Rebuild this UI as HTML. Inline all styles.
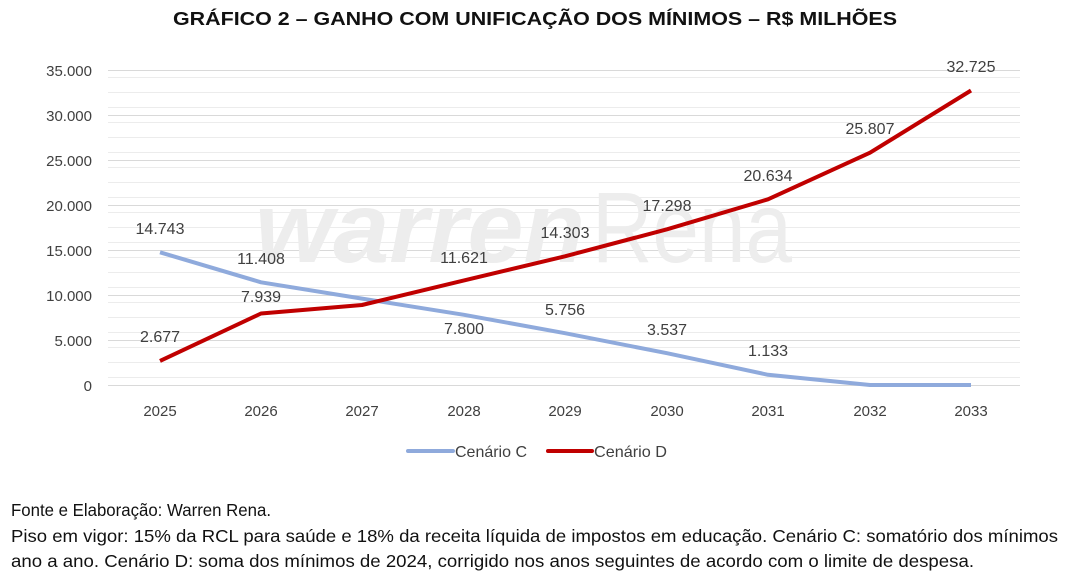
<!DOCTYPE html>
<html><head><meta charset="utf-8"><style>
body{margin:0;background:#fff;width:1069px;height:575px;overflow:hidden;font-family:"Liberation Sans",sans-serif;}
</style></head><body>
<svg width="1069" height="575" xmlns="http://www.w3.org/2000/svg" font-family="Liberation Sans, sans-serif">
<text x="173" y="25" font-size="18" font-weight="bold" fill="#111" textLength="724" lengthAdjust="spacingAndGlyphs">GRÁFICO 2  – GANHO COM UNIFICAÇÃO DOS MÍNIMOS – R$ MILHÕES</text>
<g stroke="#ececec" stroke-width="1">
<line x1="108" x2="1020" y1="77.5" y2="77.5"/><line x1="108" x2="1020" y1="92.5" y2="92.5"/>
<line x1="108" x2="1020" y1="107.5" y2="107.5"/><line x1="108" x2="1020" y1="122.5" y2="122.5"/>
<line x1="108" x2="1020" y1="137.5" y2="137.5"/><line x1="108" x2="1020" y1="152.5" y2="152.5"/>
<line x1="108" x2="1020" y1="167.5" y2="167.5"/><line x1="108" x2="1020" y1="182.5" y2="182.5"/>
<line x1="108" x2="1020" y1="197.5" y2="197.5"/><line x1="108" x2="1020" y1="212.5" y2="212.5"/>
<line x1="108" x2="1020" y1="227.5" y2="227.5"/><line x1="108" x2="1020" y1="242.5" y2="242.5"/>
<line x1="108" x2="1020" y1="257.5" y2="257.5"/><line x1="108" x2="1020" y1="272.5" y2="272.5"/>
<line x1="108" x2="1020" y1="287.5" y2="287.5"/><line x1="108" x2="1020" y1="302.5" y2="302.5"/>
<line x1="108" x2="1020" y1="317.5" y2="317.5"/><line x1="108" x2="1020" y1="332.5" y2="332.5"/>
<line x1="108" x2="1020" y1="347.5" y2="347.5"/><line x1="108" x2="1020" y1="362.5" y2="362.5"/>
<line x1="108" x2="1020" y1="377.5" y2="377.5"/>
</g>
<g stroke="#d9d9d9" stroke-width="1">
<line x1="108" x2="1020" y1="70.5" y2="70.5"/><line x1="108" x2="1020" y1="115.5" y2="115.5"/>
<line x1="108" x2="1020" y1="160.5" y2="160.5"/><line x1="108" x2="1020" y1="205.5" y2="205.5"/>
<line x1="108" x2="1020" y1="250.5" y2="250.5"/><line x1="108" x2="1020" y1="295.5" y2="295.5"/>
<line x1="108" x2="1020" y1="340.5" y2="340.5"/><line x1="108" x2="1020" y1="385.5" y2="385.5"/>
</g>
<text x="255" y="262" font-size="100" font-weight="bold" font-style="italic" fill="#ededed" textLength="330" lengthAdjust="spacingAndGlyphs">warren</text>
<text x="592" y="262" font-size="100" fill="#ededed" textLength="200" lengthAdjust="spacingAndGlyphs">Rena</text>
<g font-size="15" fill="#404040" text-anchor="end">
<text x="92" y="76">35.000</text><text x="92" y="121">30.000</text><text x="92" y="166">25.000</text>
<text x="92" y="211">20.000</text><text x="92" y="256">15.000</text><text x="92" y="301">10.000</text>
<text x="92" y="346">5.000</text><text x="92" y="391">0</text>
</g>
<g font-size="15" fill="#404040" text-anchor="middle">
<text x="160" y="416">2025</text><text x="261" y="416">2026</text><text x="362" y="416">2027</text>
<text x="464" y="416">2028</text><text x="565" y="416">2029</text><text x="667" y="416">2030</text>
<text x="768" y="416">2031</text><text x="870" y="416">2032</text><text x="971" y="416">2033</text>
</g>
<polyline fill="none" stroke="#8faadc" stroke-width="4" stroke-linejoin="round" points="160,252.3 261,282.3 362,298.6 464,314.8 565,333.2 667,353.2 768,374.8 870,385 971,385"/>
<polyline fill="none" stroke="#c00000" stroke-width="4" stroke-linejoin="round" points="160,360.9 261,313.5 362,305 464,280.4 565,256.3 667,229.3 768,199.3 870,152.7 971,90.5"/>
<g font-size="16" fill="#404040" text-anchor="middle">
<text x="160" y="234">14.743</text><text x="261" y="264">11.408</text><text x="464" y="334">7.800</text>
<text x="565" y="315">5.756</text><text x="667" y="335">3.537</text><text x="768" y="356">1.133</text>
<text x="160" y="342">2.677</text><text x="261" y="302">7.939</text><text x="464" y="263">11.621</text>
<text x="565" y="238">14.303</text><text x="667" y="211">17.298</text><text x="768" y="181">20.634</text>
<text x="870" y="134">25.807</text><text x="971" y="72">32.725</text>
</g>
<line x1="408" x2="453" y1="451" y2="451" stroke="#8faadc" stroke-width="4" stroke-linecap="round"/>
<text x="455" y="457" font-size="16" fill="#404040" textLength="72" lengthAdjust="spacingAndGlyphs">Cenário C</text>
<line x1="548" x2="592" y1="451" y2="451" stroke="#c00000" stroke-width="4" stroke-linecap="round"/>
<text x="594" y="457" font-size="16" fill="#404040" textLength="73" lengthAdjust="spacingAndGlyphs">Cenário D</text>
<g font-size="17.5" fill="#111">
<text x="11" y="516" textLength="260" lengthAdjust="spacingAndGlyphs">Fonte e Elaboração: Warren Rena.</text>
<text x="11" y="542" textLength="1047" lengthAdjust="spacingAndGlyphs">Piso em vigor: 15% da RCL para saúde e 18% da receita líquida de impostos em educação. Cenário C: somatório dos mínimos</text>
<text x="11" y="567" textLength="963" lengthAdjust="spacingAndGlyphs">ano a ano. Cenário D: soma dos mínimos de 2024, corrigido nos anos seguintes de acordo com o limite de despesa.</text>
</g>
</svg>
</body></html>
